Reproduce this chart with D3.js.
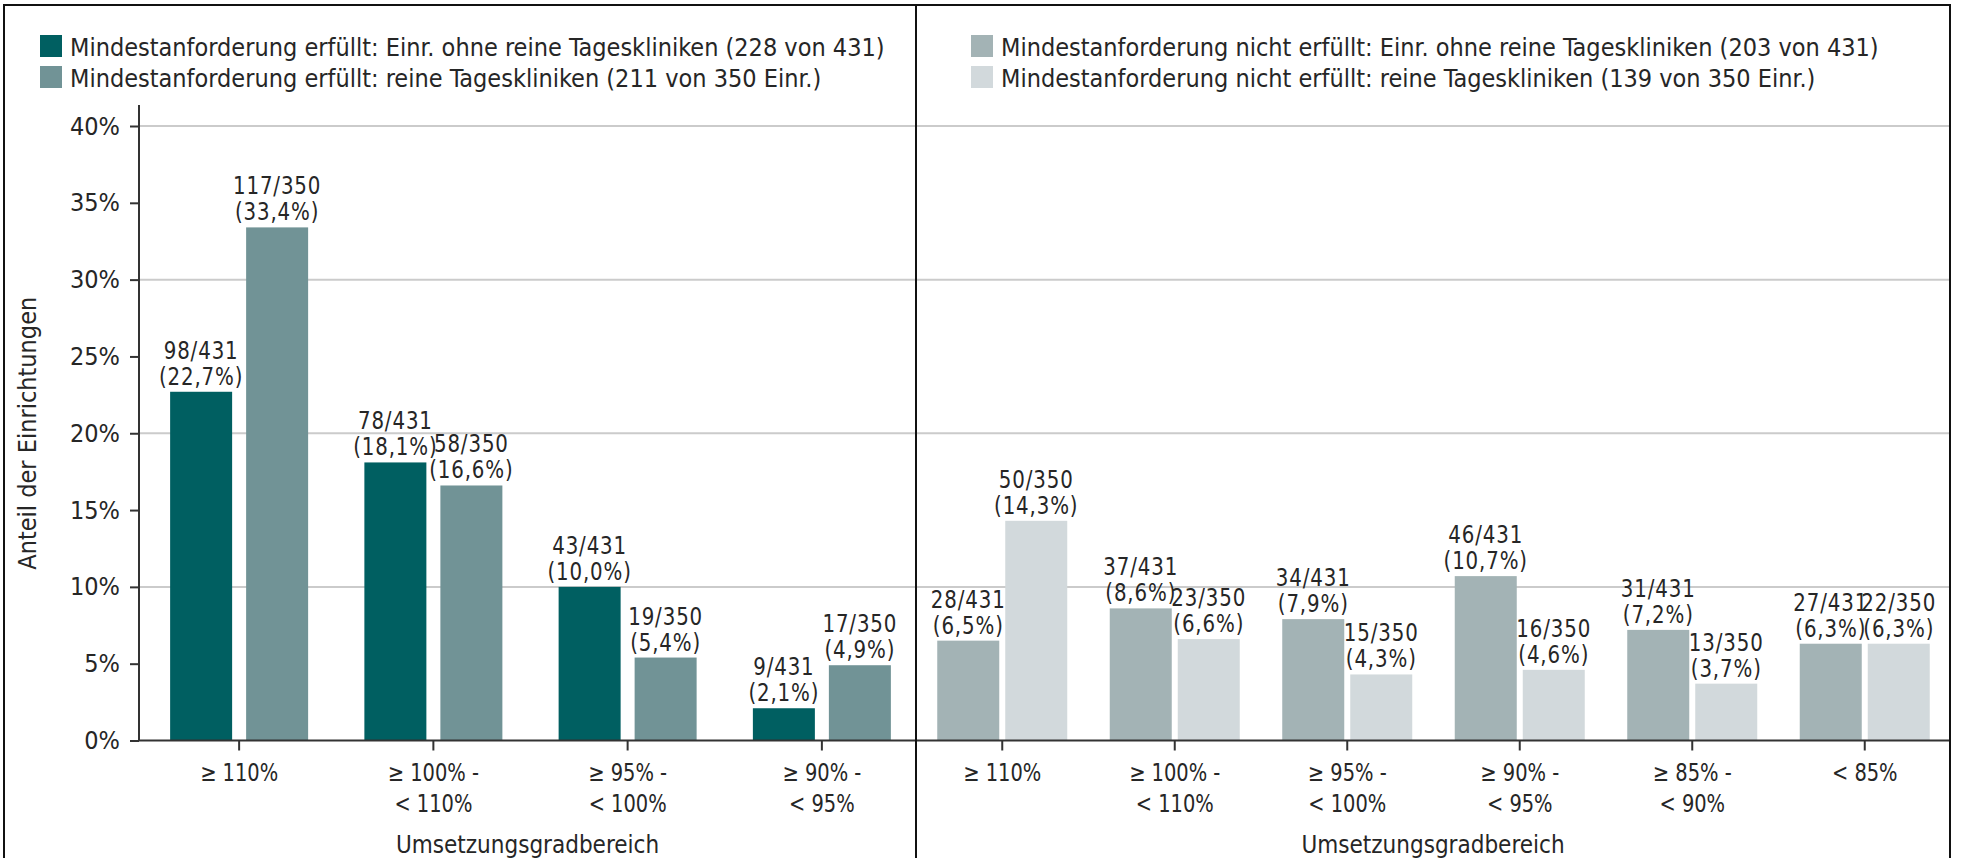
<!DOCTYPE html>
<html>
<head>
<meta charset="utf-8">
<script src="https://cdn.jsdelivr.net/npm/d3@7"></script>
<style>
  html, body { margin: 0; padding: 0; background: #fff; }
  svg text { font-family: "Liberation Sans Narrow", "DejaVu Sans Condensed", "Roboto", sans-serif; fill: #262626; }
</style>
</head>
<body>
<div id="chart"></div>
<script>
// categories (left panel: requirement met, right panel: not met)
const leftCategories = [['≥ 110%'], ['≥ 100% -', '< 110%'], ['≥ 95% -', '< 100%'], ['≥ 90% -', '< 95%']];
const rightCategories = [['≥ 110%'], ['≥ 100% -', '< 110%'], ['≥ 95% -', '< 100%'], ['≥ 90% -', '< 95%'], ['≥ 85% -', '< 90%'], ['< 85%']];

// counts and shares
const metOhneCount = [98, 78, 43, 9];
const metOhnePct = [22.7, 18.1, 10.0, 2.1];
const metTagesCount = [117, 58, 19, 17];
const metTagesPct = [33.4, 16.6, 5.4, 4.9];

const notMetOhneCount = [28, 37, 34, 46, 31, 27];
const notMetOhnePct = [6.5, 8.6, 7.9, 10.7, 7.2, 6.3];
const notMetTagesCount = [50, 23, 15, 16, 13, 22];
const notMetTagesPct = [14.3, 6.6, 4.3, 4.6, 3.7, 6.3];

const totalOhne = 431;
const totalTages = 350;

const yTicks = [0, 5, 10, 15, 20, 25, 30, 35, 40];
const gridTicks = [10, 20, 30, 40];

const legendLeft = [
  'Mindestanforderung erfüllt: Einr. ohne reine Tageskliniken (228 von 431)',
  'Mindestanforderung erfüllt: reine Tageskliniken (211 von 350 Einr.)'
];
const legendRight = [
  'Mindestanforderung nicht erfüllt: Einr. ohne reine Tageskliniken (203 von 431)',
  'Mindestanforderung nicht erfüllt: reine Tageskliniken (139 von 350 Einr.)'
];

const COLORS = {
  metOhne: '#005f61',
  metTages: '#719396',
  notOhne: '#a3b3b5',
  notTages: '#d2d9dc'
};

const W = 1968;
const H = 858;
const LABEL_SQUEEZE = 0.88;

const svg = d3.select('#chart').append('svg').attr('width', W).attr('height', H);

const y = d3.scaleLinear().domain([0, 40]).range([740.5, 126]);

const panels = [
  {
    range: [142, 919], gap: 14, barW: 62, axisLeft: 139, axisRight: 916,
    cats: leftCategories,
    series: [
      { count: metOhneCount, pct: metOhnePct, total: totalOhne, color: COLORS.metOhne },
      { count: metTagesCount, pct: metTagesPct, total: totalTages, color: COLORS.metTages }
    ],
    legend: legendLeft, legendColors: [COLORS.metOhne, COLORS.metTages], legendX: 40
  },
  {
    range: [916, 1951], gap: 6, barW: 62, axisLeft: 916, axisRight: 1950,
    cats: rightCategories,
    series: [
      { count: notMetOhneCount, pct: notMetOhnePct, total: totalOhne, color: COLORS.notOhne },
      { count: notMetTagesCount, pct: notMetTagesPct, total: totalTages, color: COLORS.notTages }
    ],
    legend: legendRight, legendColors: [COLORS.notOhne, COLORS.notTages], legendX: 971
  }
];

const fmt = (v) => d3.format('.1f')(v).replace('.', ',');

// gridlines
const grid = svg.append('g').attr('class', 'grid');
grid.selectAll('line').data(gridTicks).join('line')
  .attr('x1', 139).attr('x2', 1950)
  .attr('y1', (d) => y(d)).attr('y2', (d) => y(d))
  .attr('stroke', '#cbcbcb').attr('stroke-width', 2);

panels.forEach((p) => {
  const n = p.cats.length;
  const step = (p.range[1] - p.range[0]) / n;
  const groupW = 2 * p.barW + p.gap;
  const pad = 1 - groupW / step;
  const x0 = d3.scaleBand().domain(d3.range(n)).range(p.range).paddingInner(pad).paddingOuter(pad / 2);
  const q = p.gap / (p.barW + p.gap);
  const x1 = d3.scaleBand().domain([0, 1]).range([0, x0.bandwidth()]).paddingInner(q).paddingOuter(0);

  const g = svg.append('g');

  // bars + labels
  p.series.forEach((s, si) => {
    const cx = (i) => x0(i) + x1(si) + x1.bandwidth() / 2;
    const bars = g.append('g');
    bars.selectAll('rect').data(s.pct).join('rect')
      .attr('x', (d, i) => x0(i) + x1(si))
      .attr('y', (d) => y(d))
      .attr('width', x1.bandwidth())
      .attr('height', (d) => y(0) - y(d))
      .attr('fill', s.color);

    const lbl = g.append('g').attr('font-size', 25).attr('letter-spacing', 1).attr('text-anchor', 'middle');
    lbl.selectAll('text.l1').data(s.count).join('text').attr('class', 'l1')
      .attr('transform', (d, i) => `translate(${cx(i)},${y(s.pct[i]) - 33}) scale(${LABEL_SQUEEZE},1)`)
      .text((d) => `${d}/${s.total}`);
    lbl.selectAll('text.l2').data(s.pct).join('text').attr('class', 'l2')
      .attr('transform', (d, i) => `translate(${cx(i)},${y(d) - 7}) scale(${LABEL_SQUEEZE},1)`)
      .text((d) => `(${fmt(d)}%)`);
  });

  // x axis
  const xAxis = d3.axisBottom(x0).tickSize(10).tickPadding(0).tickFormat(() => '');
  const ax = g.append('g').attr('transform', `translate(0,${y(0)})`).call(xAxis);
  ax.select('.domain').remove();
  ax.selectAll('.tick line').attr('stroke', '#333').attr('stroke-width', 2);
  ax.selectAll('.tick').each(function (d) {
    const t = d3.select(this).append('text')
      .attr('text-anchor', 'middle').attr('font-size', 24).attr('fill', '#262626')
      .attr('transform', 'scale(0.9,1)');
    p.cats[d].forEach((line, li) => {
      t.append('tspan').attr('x', 0).attr('y', 41 + li * 31).text(line);
    });
  });
  g.append('line')
    .attr('x1', p.axisLeft).attr('x2', p.axisRight)
    .attr('y1', y(0)).attr('y2', y(0))
    .attr('stroke', '#333').attr('stroke-width', 2);

  // axis title
  g.append('text')
    .attr('x', (p.axisLeft + p.axisRight) / 2).attr('y', 853)
    .attr('text-anchor', 'middle').attr('font-size', 24)
    .text('Umsetzungsgradbereich');

  // legend
  const lg = g.append('g');
  p.legend.forEach((txt, i) => {
    lg.append('rect').attr('x', p.legendX).attr('y', 35 + i * 31)
      .attr('width', 22).attr('height', 22).attr('fill', p.legendColors[i]);
    lg.append('text').attr('x', p.legendX + 30).attr('y', 56 + i * 31)
      .attr('font-size', 25).text(txt);
  });
});

// y axis (left panel only)
const yAxis = d3.axisLeft(y).tickValues(yTicks).tickSize(9).tickPadding(10).tickFormat((d) => `${d}%`);
const yg = svg.append('g').attr('transform', 'translate(139,0)').call(yAxis);
yg.select('.domain').remove();
yg.selectAll('.tick line').attr('stroke', '#333').attr('stroke-width', 2);
yg.selectAll('.tick text').attr('font-size', 25).attr('fill', '#262626')
  .style('font-family', '"Liberation Sans Narrow", "DejaVu Sans Condensed", sans-serif');
svg.append('line').attr('x1', 139).attr('x2', 139).attr('y1', y(0)).attr('y2', 105)
  .attr('stroke', '#333').attr('stroke-width', 2);

svg.append('text')
  .attr('transform', `translate(36,${(y(0) + y(40)) / 2}) rotate(-90)`)
  .attr('text-anchor', 'middle').attr('font-size', 25)
  .text('Anteil der Einrichtungen');

// frame and divider
svg.append('rect').attr('x', 4).attr('y', 5).attr('width', 1946).attr('height', 900)
  .attr('fill', 'none').attr('stroke', '#111').attr('stroke-width', 2);
svg.append('line').attr('x1', 916).attr('x2', 916).attr('y1', 5).attr('y2', H)
  .attr('stroke', '#111').attr('stroke-width', 2);
</script>
</body>
</html>
